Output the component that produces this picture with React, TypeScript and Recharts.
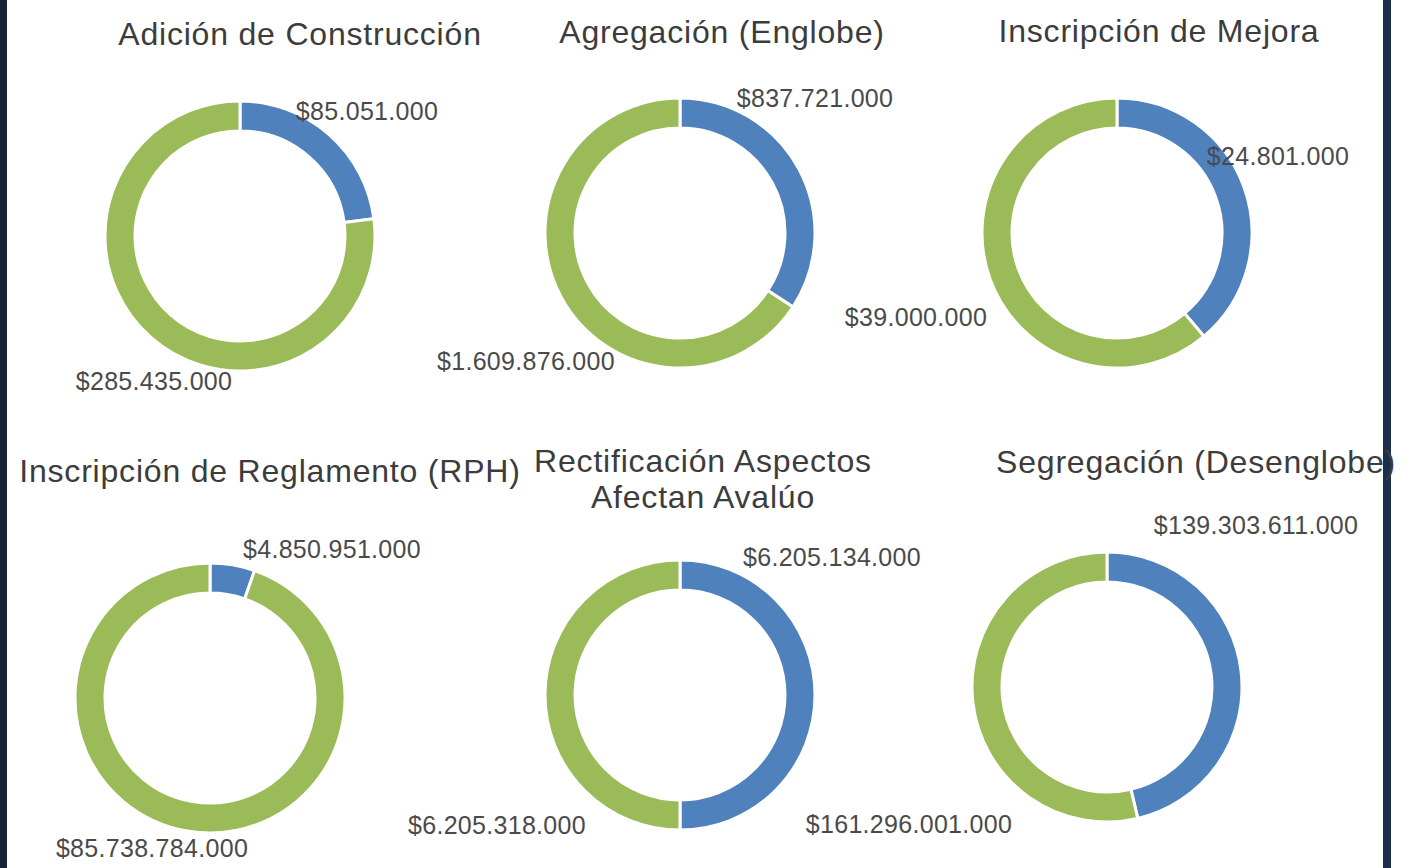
import React from "react";
import { PieChart, Pie, Cell } from "recharts";

// ---- Data -------------------------------------------------------------------
const titles = [
  ["Adición de Construcción"],
  ["Agregación (Englobe)"],
  ["Inscripción de Mejora"],
  ["Inscripción de Reglamento (RPH)"],
  ["Rectificación Aspectos", "Afectan Avalúo"],
  ["Segregación (Desenglobe)"],
];

const blueValues = [85051000, 837721000, 24801000, 4850951000, 6205134000, 139303611000];
const greenValues = [285435000, 1609876000, 39000000, 85738784000, 6205318000, 161296001000];

// ---- Layout (positions / styles only) --------------------------------------
const BLUE = "#4F81BD";
const GREEN = "#9BBB59";
const TEXT = "#3c3c3c";
const OUTER_R = 135;
const INNER_R = 105;

// pie centres
const centers = [
  [240, 236],
  [680, 233],
  [1117, 233],
  [210, 698],
  [680, 695],
  [1107, 687],
];

// title centre (x, y of first line)
const titlePos = [
  [300, 35],
  [722, 33],
  [1159, 32],
  [270, 472],
  [703, 462],
  [1196, 463],
];

// data label offsets from the pie centre: [blue, green]
const labelOffsets = [
  [[127, -125], [-86, 145]],
  [[135, -135], [-154, 128]],
  [[161, -77], [-201, 84]],
  [[122, -149], [-58, 150]],
  [[152, -138], [-183, 130]],
  [[149, -162], [-198, 137]],
];

const money = (n: number) =>
  "$" + Math.round(n).toString().replace(/\B(?=(\d{3})+(?!\d))/g, ".");

const makeLabel = (chart: number) => (props: any) => {
  const { cx, cy, index, value } = props;
  const [dx, dy] = labelOffsets[chart][index];
  return (
    <text
      x={cx + dx}
      y={cy + dy}
      textAnchor="middle"
      dominantBaseline="central"
      fill="#4a4a4a"
      fontSize={25}
      letterSpacing={0.3}
      fontFamily="'Liberation Sans', Arial, sans-serif"
    >
      {money(value)}
    </text>
  );
};

const App: React.FC = () => {
  const pies = titles.map((_, i) => [
    { name: "blue", value: blueValues[i] },
    { name: "green", value: greenValues[i] },
  ]);

  return (
    <div
      style={{
        position: "absolute",
        left: 0,
        top: 0,
        width: 1416,
        height: 868,
        background: "#ffffff",
        overflow: "hidden",
        fontFamily: "'Liberation Sans', Arial, sans-serif",
      }}
    >
      {/* frame edges */}
      <div style={{ position: "absolute", left: 0, top: 0, width: 7, height: 868, background: "#18243a" }} />
      <div style={{ position: "absolute", left: 1383, top: 0, width: 8, height: 868, background: "#1d2e4c" }} />

      <PieChart
        width={1416}
        height={868}
        margin={{ top: 0, right: 0, bottom: 0, left: 0 }}
        style={{ position: "absolute", left: 0, top: 0 }}
      >
        {pies.map((d, i) => (
          <Pie
            key={`pie-${i}`}
            data={d}
            dataKey="value"
            nameKey="name"
            cx={centers[i][0]}
            cy={centers[i][1]}
            outerRadius={OUTER_R}
            innerRadius={INNER_R}
            startAngle={90}
            endAngle={-270}
            stroke="#ffffff"
            strokeWidth={3}
            labelLine={false}
            label={makeLabel(i)}
            isAnimationActive={false}
          >
            <Cell fill={BLUE} />
            <Cell fill={GREEN} />
          </Pie>
        ))}
      </PieChart>

      {titles.map((lines, i) => (
        <div
          key={`title-${i}`}
          style={{
            position: "absolute",
            left: titlePos[i][0] - 300,
            top: titlePos[i][1] - 19,
            width: 600,
            textAlign: "center",
            fontSize: 32,
            lineHeight: "36px",
            letterSpacing: 0.8,
            color: TEXT,
            whiteSpace: "nowrap",
          }}
        >
          {lines.map((l, j) => (
            <div key={j}>{l}</div>
          ))}
        </div>
      ))}
    </div>
  );
};

export default App;
